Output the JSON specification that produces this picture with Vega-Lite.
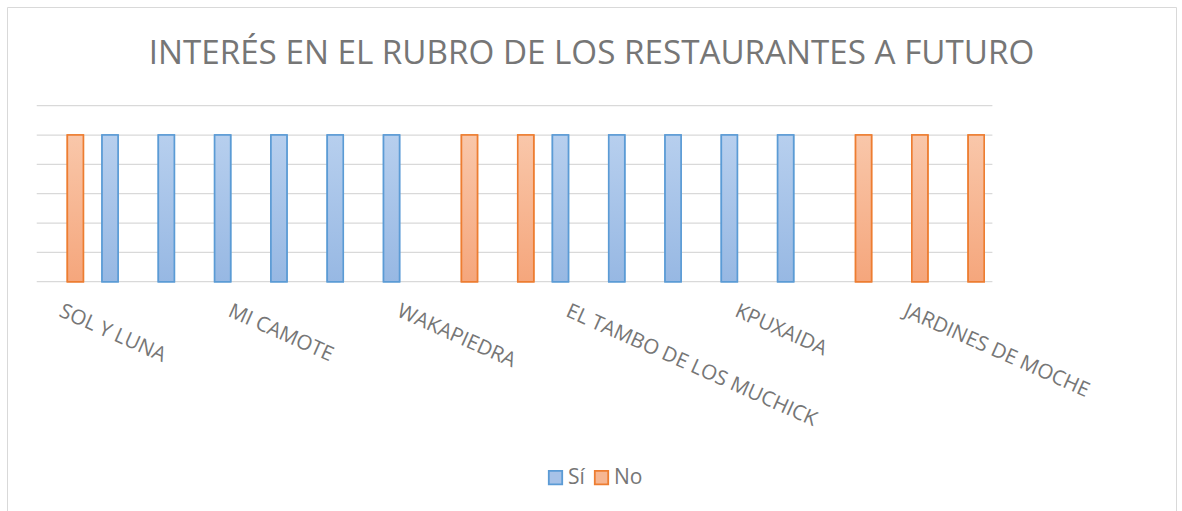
{
  "$schema": "https://vega.github.io/schema/vega-lite/v6.json",
  "autosize": {"type": "none"},
  "padding": {"left": 7, "top": 7, "right": 6, "bottom": 0},
  "width": 1169,
  "height": 504,
  "background": "white",
  "title": {
    "text": "INTERÉS EN EL RUBRO DE LOS RESTAURANTES A FUTURO",
    "font": "Open Sans",
    "fontSize": 33.2,
    "fontWeight": "normal",
    "color": "#767676",
    "anchor": "middle",
    "frame": "group",
    "offset": -64
  },
  "datasets": {
    "respuestas": [
      {"restaurante": "SOL Y LUNA", "respuesta": "No", "valor": 1},
      {"restaurante": "RESTAURANTE 2", "respuesta": "Sí", "valor": 1},
      {"restaurante": "RESTAURANTE 3", "respuesta": "Sí", "valor": 1},
      {"restaurante": "MI CAMOTE", "respuesta": "Sí", "valor": 1},
      {"restaurante": "RESTAURANTE 5", "respuesta": "Sí", "valor": 1},
      {"restaurante": "RESTAURANTE 6", "respuesta": "Sí", "valor": 1},
      {"restaurante": "WAKAPIEDRA", "respuesta": "Sí", "valor": 1},
      {"restaurante": "RESTAURANTE 8", "respuesta": "No", "valor": 1},
      {"restaurante": "RESTAURANTE 9", "respuesta": "No", "valor": 1},
      {"restaurante": "EL TAMBO DE LOS MUCHICK", "respuesta": "Sí", "valor": 1},
      {"restaurante": "RESTAURANTE 11", "respuesta": "Sí", "valor": 1},
      {"restaurante": "RESTAURANTE 12", "respuesta": "Sí", "valor": 1},
      {"restaurante": "KPUXAIDA", "respuesta": "Sí", "valor": 1},
      {"restaurante": "RESTAURANTE 14", "respuesta": "Sí", "valor": 1},
      {"restaurante": "RESTAURANTE 15", "respuesta": "No", "valor": 1},
      {"restaurante": "JARDINES DE MOCHE", "respuesta": "No", "valor": 1},
      {"restaurante": "RESTAURANTE 17", "respuesta": "No", "valor": 1}
    ],
    "rejilla": [
      {"v": 0}, {"v": 0.2}, {"v": 0.4}, {"v": 0.6}, {"v": 0.8}, {"v": 1.0}, {"v": 1.2}
    ]
  },
  "data": {"name": "respuestas"},
  "encoding": {
    "x": {
      "field": "restaurante",
      "type": "nominal",
      "scale": {
        "domain": ["SOL Y LUNA", "RESTAURANTE 2", "RESTAURANTE 3", "MI CAMOTE", "RESTAURANTE 5", "RESTAURANTE 6", "WAKAPIEDRA", "RESTAURANTE 8", "RESTAURANTE 9", "EL TAMBO DE LOS MUCHICK", "RESTAURANTE 11", "RESTAURANTE 12", "KPUXAIDA", "RESTAURANTE 14", "RESTAURANTE 15", "JARDINES DE MOCHE", "RESTAURANTE 17"],
        "range": [29.4, 986.5],
        "paddingInner": 0.314,
        "paddingOuter": 0.157
      },
      "axis": {
        "orient": "bottom",
        "offset": -229.3,
        "title": null,
        "domain": false,
        "ticks": false,
        "tickSize": 0,
        "grid": false,
        "labelAngle": 24,
        "labelAlign": "left",
        "labelBaseline": "top",
        "labelPadding": 19,
        "labelFont": "Open Sans",
        "labelFontSize": 20.5,
        "labelColor": "#767676",
        "labelLimit": 500,
        "labelOverlap": false,
        "labelBound": false,
        "labelFlush": false,
        "labelExpr": "indexof(['SOL Y LUNA','MI CAMOTE','WAKAPIEDRA','EL TAMBO DE LOS MUCHICK','KPUXAIDA','JARDINES DE MOCHE'], datum.value) >= 0 ? datum.label : ''"
      }
    },
    "y": {
      "type": "quantitative",
      "scale": {"domain": [-1.5634, 1.8729], "nice": false, "zero": false},
      "axis": null
    }
  },
  "layer": [
    {
      "data": {"name": "rejilla"},
      "mark": {"type": "rule", "color": "#d9d9d9", "strokeWidth": 1.2},
      "encoding": {
        "y": {"field": "v", "type": "quantitative"},
        "x": {"datum": "SOL Y LUNA", "type": "nominal", "bandPosition": -0.22},
        "x2": {"datum": "RESTAURANTE 17", "bandPosition": 1.2}
      }
    },
    {
      "mark": {"type": "bar", "strokeWidth": 1.6, "width": 16},
      "encoding": {
        "xOffset": {"field": "respuesta", "type": "nominal", "scale": {"domain": ["Sí", "No"], "paddingInner": 0.213, "paddingOuter": 0}},
        "y": {"field": "valor", "type": "quantitative"},
        "y2": {"datum": 0},
        "fill": {
          "field": "respuesta", "type": "nominal",
          "scale": {"domain": ["Sí", "No"], "range": ["#a7c2e8", "#f6b692"]},
          "legend": {
            "title": null,
            "orient": "none",
            "legendX": 538,
            "legendY": 460,
            "direction": "horizontal",
            "symbolType": "square",
            "symbolSize": 180,
            "symbolStrokeWidth": 1.8,
            "labelFont": "Open Sans",
            "labelFontSize": 21,
            "labelColor": "#767676",
            "labelOffset": 2,
            "columnPadding": 6
          }
        },
        "stroke": {
          "field": "respuesta", "type": "nominal",
          "scale": {"domain": ["Sí", "No"], "range": ["#5b9bd5", "#ed7d31"]},
          "legend": {
            "title": null,
            "orient": "none",
            "legendX": 538,
            "legendY": 460,
            "direction": "horizontal",
            "symbolType": "square",
            "symbolSize": 180,
            "symbolStrokeWidth": 1.8,
            "labelFont": "Open Sans",
            "labelFontSize": 21,
            "labelColor": "#767676",
            "labelOffset": 2,
            "columnPadding": 6
          }
        }
      }
    },
    {
      "transform": [{"filter": "datum.respuesta === 'Sí'"}],
      "mark": {
        "type": "bar", "strokeWidth": 1.6, "width": 16, "stroke": "#5b9bd5",
        "fill": {"gradient": "linear", "x1": 0, "y1": 0, "x2": 0, "y2": 1, "stops": [{"offset": 0, "color": "#b7cfee"}, {"offset": 1, "color": "#97b8e3"}]}
      },
      "encoding": {
        "xOffset": {"field": "respuesta", "type": "nominal"},
        "y": {"field": "valor", "type": "quantitative"},
        "y2": {"datum": 0}
      }
    },
    {
      "transform": [{"filter": "datum.respuesta === 'No'"}],
      "mark": {
        "type": "bar", "strokeWidth": 1.6, "width": 16, "stroke": "#ed7d31",
        "fill": {"gradient": "linear", "x1": 0, "y1": 0, "x2": 0, "y2": 1, "stops": [{"offset": 0, "color": "#f9c7aa"}, {"offset": 1, "color": "#f5a67c"}]}
      },
      "encoding": {
        "xOffset": {"field": "respuesta", "type": "nominal"},
        "y": {"field": "valor", "type": "quantitative"},
        "y2": {"datum": 0}
      }
    }
  ],
  "config": {
    "view": {"stroke": "#d9d9d9", "strokeWidth": 1}
  }
}
